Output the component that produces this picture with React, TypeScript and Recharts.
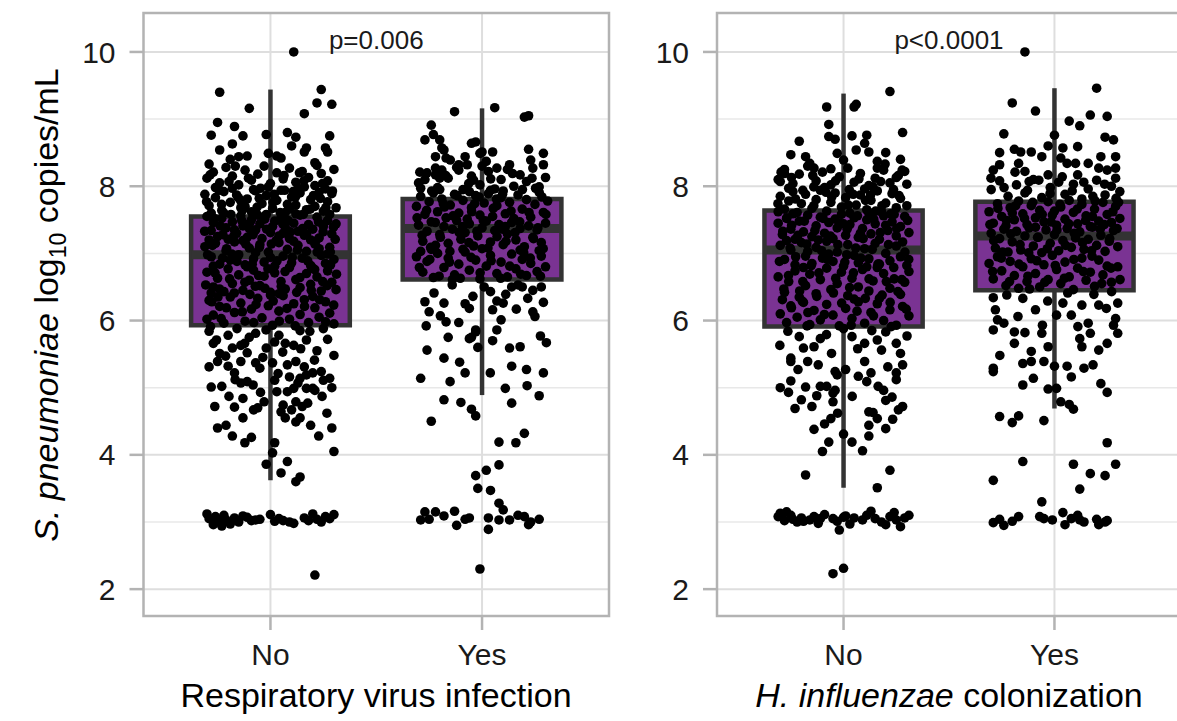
import React from "react";
import {
  ComposedChart,
  ReferenceArea,
  ReferenceDot,
  ReferenceLine,
  Scatter,
  XAxis,
  YAxis
} from "recharts";

const FONT = '"Liberation Sans", Arial, Helvetica, sans-serif';

// shared scales
const xDomain: [number, number] = [0.4, 2.6];
const yDomain: [number, number] = [1.6, 10.58];
const majorTicks = [2, 4, 6, 8, 10];
const minorTicks = [3, 5, 7, 9];
const categories = ["No", "Yes"];
const pLabelY = 10.05;

// box statistics, [No, Yes]
const respQ1 = [5.93, 6.61];
const respMedian = [6.98, 7.37];
const respQ3 = [7.55, 7.81];
const respLow = [3.62, 4.89];
const respHigh = [9.44, 9.16];

const hflQ1 = [5.91, 6.45];
const hflMedian = [7.05, 7.26];
const hflQ3 = [7.64, 7.77];
const hflLow = [3.51, 4.69];
const hflHigh = [9.38, 9.46];

// jittered observations: [offset from category, log10 copies/mL]
const respNoPoints: [number, number][] = [
  [0.11, 10.0], [-0.24, 9.4], [0.24, 9.44], [0.22, 9.24], [0.29, 9.22], [-0.1, 9.16], [0.16, 9.08],
  [-0.25, 8.95], [-0.17, 8.89], [-0.28, 8.76], [-0.13, 8.75], [-0.18, 8.63], [-0.02, 8.77], [0.08, 8.8],
  [0.12, 8.73], [0.1, 8.6], [0.17, 8.57], [0.28, 8.75], [0.26, 8.57], [0.27, 8.51], [-0.24, 8.54],
  [-0.01, 8.49], [0.03, 8.45], [0.05, 8.42], [-0.15, 8.44], [-0.29, 8.33], [-0.19, 8.4], [-0.11, 8.45],
  [0.16, 8.51], [0.21, 8.35],
  [-0.3, 8.12], [-0.27, 8.21], [-0.24, 8.05], [-0.21, 8.28], [-0.18, 8.15], [-0.15, 8.02], [-0.12, 8.24],
  [-0.09, 8.09], [-0.06, 8.18], [-0.03, 8.3], [0.0, 8.04], [0.03, 8.2], [0.06, 8.11], [0.09, 8.27],
  [0.12, 8.06], [0.15, 8.22], [0.18, 8.13], [0.21, 8.01], [0.24, 8.19], [0.27, 8.08], [0.3, 8.25],
  [-0.26, 7.98], [0.13, 7.97], [-0.08, 7.95], [0.22, 8.31],
  [-0.31, 7.88], [-0.29, 7.71], [-0.26, 7.83], [-0.23, 7.64], [-0.22, 7.92], [-0.19, 7.76], [-0.16, 7.87],
  [-0.14, 7.68], [-0.11, 7.81], [-0.09, 7.62], [-0.07, 7.93], [-0.04, 7.74], [-0.02, 7.86], [0.01, 7.67],
  [0.03, 7.79], [0.05, 7.94], [0.07, 7.61], [0.1, 7.84], [0.12, 7.72], [0.14, 7.9], [0.17, 7.65],
  [0.19, 7.8], [0.21, 7.7], [0.23, 7.91], [0.25, 7.63], [0.27, 7.77], [0.29, 7.89], [0.31, 7.68],
  [-0.28, 7.6], [-0.18, 7.97], [-0.01, 7.99], [0.16, 7.99], [0.08, 7.73], [-0.12, 7.7], [0.26, 7.96],
  [-0.3, 7.55], [-0.28, 7.34], [-0.27, 7.46], [-0.25, 7.25], [-0.23, 7.52], [-0.21, 7.38], [-0.2, 7.21],
  [-0.18, 7.47], [-0.16, 7.3], [-0.14, 7.56], [-0.13, 7.41], [-0.11, 7.24], [-0.09, 7.5], [-0.07, 7.35],
  [-0.05, 7.44], [-0.04, 7.22], [-0.02, 7.58], [0.0, 7.31], [0.02, 7.48], [0.04, 7.26], [0.05, 7.53],
  [0.07, 7.39], [0.09, 7.22], [0.11, 7.45], [0.13, 7.33], [0.14, 7.57], [0.16, 7.27], [0.18, 7.43],
  [0.2, 7.36], [0.22, 7.54], [0.23, 7.23], [0.25, 7.4], [0.27, 7.49], [0.29, 7.29], [0.31, 7.44],
  [-0.29, 7.2], [-0.22, 7.6], [-0.1, 7.37], [0.01, 7.4], [0.12, 7.59], [0.19, 7.2], [0.28, 7.58],
  [-0.17, 7.35], [0.06, 7.3], [-0.06, 7.57],
  [-0.31, 7.1], [-0.28, 6.95], [-0.26, 7.15], [-0.24, 6.84], [-0.21, 7.04], [-0.19, 6.9], [-0.17, 7.17],
  [-0.15, 6.98], [-0.12, 6.83], [-0.1, 7.08], [-0.08, 6.92], [-0.05, 7.13], [-0.03, 6.87], [-0.01, 7.02],
  [0.02, 6.81], [0.04, 7.16], [0.06, 6.96], [0.08, 7.06], [0.1, 6.86], [0.13, 7.12], [0.15, 6.93],
  [0.17, 7.03], [0.19, 6.82], [0.21, 7.14], [0.24, 6.97], [0.26, 6.85], [0.28, 7.09], [0.3, 6.91],
  [-0.27, 6.81], [-0.13, 7.19], [0.0, 6.94], [0.11, 7.18], [0.23, 7.07], [-0.07, 7.01], [0.27, 6.99],
  [-0.3, 6.72], [-0.27, 6.5], [-0.25, 6.63], [-0.22, 6.43], [-0.2, 6.77], [-0.18, 6.55], [-0.15, 6.68],
  [-0.13, 6.45], [-0.1, 6.6], [-0.08, 6.75], [-0.05, 6.52], [-0.03, 6.66], [0.0, 6.42], [0.02, 6.71],
  [0.05, 6.58], [0.07, 6.47], [0.09, 6.79], [0.12, 6.61], [0.14, 6.49], [0.17, 6.7], [0.19, 6.54],
  [0.22, 6.65], [0.24, 6.44], [0.27, 6.74], [0.29, 6.57], [0.31, 6.46], [-0.28, 6.41], [-0.11, 6.8],
  [0.04, 6.4], [0.2, 6.78],
  [-0.29, 6.3], [-0.27, 6.08], [-0.24, 6.21], [-0.22, 5.96], [-0.19, 6.35], [-0.17, 6.12], [-0.14, 6.26],
  [-0.12, 5.99], [-0.09, 6.17], [-0.06, 6.33], [-0.04, 6.04], [-0.01, 6.22], [0.01, 5.93], [0.04, 6.14],
  [0.06, 6.37], [0.09, 6.02], [0.11, 6.25], [0.14, 6.09], [0.16, 6.31], [0.18, 5.97], [0.21, 6.19],
  [0.23, 6.05], [0.26, 6.28], [0.28, 6.11], [0.3, 5.95], [-0.3, 6.02], [0.0, 6.38], [0.2, 6.36],
  [-0.29, 5.31], [-0.25, 5.39], [-0.2, 5.32], [-0.17, 5.22], [-0.14, 5.39], [-0.11, 5.52], [-0.07, 5.37],
  [-0.05, 5.29], [-0.02, 5.59], [0.01, 5.37], [-0.27, 5.66], [-0.24, 5.51], [-0.18, 5.59], [-0.14, 5.63],
  [0.08, 5.34], [0.12, 5.39], [0.16, 5.31], [0.2, 5.22], [0.17, 5.19], [0.07, 5.66], [0.11, 5.63],
  [0.17, 5.71], [-0.2, 5.78], [-0.07, 5.81], [0.04, 5.78], [0.28, 5.14], [0.29, 5.0], [0.25, 5.11],
  [0.24, 5.24], [0.2, 4.99], [0.22, 5.55], [0.27, 5.72], [0.3, 5.48], [0.14, 5.85], [-0.29, 5.84],
  [-0.1, 5.75], [0.02, 5.68], [0.25, 5.88],
  [-0.28, 5.01], [-0.23, 5.02], [-0.14, 5.07], [-0.11, 5.09], [0.02, 5.11], [0.03, 4.94], [0.06, 4.74],
  [0.05, 4.64], [0.07, 4.55], [0.12, 4.49], [0.14, 4.55], [0.12, 4.79], [0.15, 4.72], [0.1, 4.67],
  [0.19, 4.44], [0.08, 4.94], [0.11, 4.99], [0.13, 5.07], [0.17, 4.99], [0.21, 4.96], [0.09, 5.16],
  [0.14, 5.14], [-0.25, 4.4], [-0.21, 4.44], [-0.18, 4.28], [-0.09, 4.26], [-0.13, 4.55], [-0.17, 4.71],
  [-0.13, 4.84], [-0.08, 4.67], [-0.06, 4.7], [-0.03, 4.79], [0.3, 4.05], [0.29, 4.4],
  [0.02, 4.18], [0.01, 4.03], [-0.02, 3.86], [0.08, 3.9], [0.05, 3.73], [0.14, 3.67], [0.12, 3.6],
  [-0.3, 3.12], [-0.29, 3.05], [-0.27, 2.96], [-0.26, 3.08], [-0.24, 3.01], [-0.23, 2.94], [-0.22, 3.1],
  [-0.21, 3.03], [-0.19, 2.97], [-0.17, 3.06], [-0.15, 3.0], [-0.13, 3.09], [-0.11, 3.07], [-0.09, 3.02],
  [-0.05, 3.04], [0.0, 3.11], [0.02, 3.01], [0.04, 3.05], [0.06, 3.02], [0.09, 3.0], [0.11, 2.98],
  [0.16, 3.06], [0.18, 3.02], [0.2, 3.12], [0.22, 3.04], [0.24, 3.0], [0.26, 3.08], [0.28, 3.05],
  [0.3, 3.11], [-0.07, 3.03],
  [0.21, 2.21],
  [-0.285, 8.17], [-0.243, 7.94], [-0.196, 8.07], [-0.152, 7.83], [-0.104, 8.12], [-0.047, 7.97],
  [0.018, 7.88], [0.064, 8.16], [0.107, 7.92], [0.158, 8.08], [0.203, 7.86], [0.246, 8.04], [0.293, 7.93],
  [-0.302, 7.77], [-0.266, 7.52], [-0.231, 7.73], [-0.187, 7.58], [-0.142, 7.79], [-0.098, 7.45],
  [-0.063, 7.69], [-0.027, 7.51], [0.012, 7.76], [0.046, 7.61], [0.083, 7.49], [0.118, 7.84],
  [0.152, 7.37], [0.188, 7.66], [0.227, 7.47], [0.262, 7.68], [0.298, 7.39],
  [-0.311, 7.33], [-0.274, 7.12], [-0.238, 7.41], [-0.207, 7.07], [-0.173, 7.26], [-0.136, 7.49],
  [-0.117, 7.14], [-0.082, 7.28], [-0.052, 7.09], [-0.018, 7.36], [0.027, 7.19], [0.058, 7.44],
  [0.094, 7.32], [0.127, 7.05], [0.171, 7.29], [0.214, 7.18], [0.249, 7.32], [0.283, 7.02], [0.306, 7.21],
  [-0.297, 6.98], [-0.262, 6.71], [-0.226, 6.93], [-0.193, 6.62], [-0.158, 6.88], [-0.121, 6.57],
  [-0.086, 6.84], [-0.056, 6.67], [-0.012, 6.77], [0.031, 6.89], [0.069, 6.73], [0.103, 6.94],
  [0.139, 6.64], [0.176, 6.89], [0.209, 6.76], [0.247, 6.58], [0.284, 6.83], [0.312, 6.69],
  [-0.306, 6.53], [-0.277, 6.28], [-0.241, 6.47], [-0.208, 6.19], [-0.171, 6.41], [-0.133, 6.13],
  [-0.097, 6.39], [-0.068, 6.24], [-0.026, 6.48], [0.013, 6.29], [0.051, 6.51], [0.078, 6.18],
  [0.124, 6.42], [0.161, 6.21], [0.193, 6.45], [0.232, 6.31], [0.268, 6.52], [0.299, 6.23],
  [-0.283, 5.91], [-0.233, 6.03], [-0.158, 5.88], [-0.079, 5.97], [-0.021, 5.86], [0.042, 5.99],
  [0.117, 5.92], [0.186, 5.84], [0.261, 5.98],
  [-0.255, 5.71], [-0.122, 5.66], [-0.036, 5.45], [0.058, 5.53], [0.143, 5.58], [0.208, 5.41],
  [-0.212, 5.47], [-0.167, 5.12], [0.036, 5.21], [-0.082, 5.04], [0.244, 4.87], [0.267, 4.62],
  [-0.047, 4.93], [-0.196, 4.87], [-0.263, 4.72], [0.176, 4.77], [0.228, 4.28], [-0.121, 4.18],
  [-0.225, 7.28], [-0.053, 7.82], [0.092, 7.66], [0.236, 7.82], [-0.183, 6.99], [0.155, 7.58],
  [-0.072, 6.51], [0.221, 7.02], [-0.248, 6.35], [0.004, 7.14], [0.067, 7.94], [-0.131, 7.65],
  [0.137, 8.2], [-0.166, 8.3]
];

const respYesPoints: [number, number][] = [
  [-0.13, 9.11], [0.06, 9.17], [0.2, 9.03], [0.22, 9.05], [-0.24, 8.91], [-0.23, 8.77], [-0.27, 8.69],
  [-0.19, 8.57], [-0.05, 8.64], [-0.03, 8.66], [0.05, 8.51], [-0.01, 8.49], [0.22, 8.55], [0.29, 8.49],
  [-0.08, 8.44], [-0.22, 8.44], [-0.17, 8.42], [0.29, 8.32], [0.23, 8.39], [0.13, 8.32], [-0.22, 8.27],
  [-0.11, 8.32], [-0.2, 8.69], [-0.18, 8.54], [-0.15, 8.39], [-0.22, 8.17], [-0.2, 8.12], [-0.27, 8.1],
  [-0.29, 7.97], [0.0, 8.51], [-0.11, 8.24], [-0.07, 8.32], [-0.04, 8.09], [0.02, 8.37], [0.07, 8.27],
  [0.04, 7.94],
  [-0.3, 8.05], [-0.26, 8.2], [-0.21, 7.98], [-0.16, 8.12], [-0.12, 8.28], [-0.09, 7.95], [-0.05, 8.15],
  [-0.01, 8.02], [0.03, 8.22], [0.06, 7.96], [0.09, 8.1], [0.12, 8.25], [0.15, 8.0], [0.18, 8.17],
  [0.21, 8.07], [0.24, 8.27], [0.27, 7.99], [0.3, 8.13], [-0.19, 8.24], [0.0, 8.3],
  [-0.31, 7.7], [-0.29, 7.85], [-0.27, 7.58], [-0.25, 7.77], [-0.23, 7.9], [-0.21, 7.62], [-0.19, 7.81],
  [-0.17, 7.53], [-0.15, 7.72], [-0.13, 7.88], [-0.11, 7.6], [-0.09, 7.79], [-0.07, 7.51], [-0.05, 7.68],
  [-0.03, 7.86], [-0.01, 7.57], [0.01, 7.75], [0.03, 7.89], [0.05, 7.55], [0.07, 7.71], [0.09, 7.83],
  [0.11, 7.59], [0.13, 7.76], [0.15, 7.52], [0.17, 7.87], [0.19, 7.66], [0.21, 7.8], [0.23, 7.54],
  [0.25, 7.73], [0.27, 7.91], [0.29, 7.61], [0.31, 7.78], [-0.2, 7.95], [0.1, 7.93], [-0.06, 7.92],
  [-0.3, 7.42], [-0.28, 7.18], [-0.26, 7.33], [-0.24, 7.47], [-0.22, 7.12], [-0.2, 7.28], [-0.18, 7.4],
  [-0.16, 7.15], [-0.14, 7.36], [-0.12, 7.49], [-0.1, 7.21], [-0.08, 7.31], [-0.06, 7.44], [-0.04, 7.11],
  [-0.02, 7.26], [0.0, 7.38], [0.02, 7.48], [0.04, 7.17], [0.06, 7.34], [0.08, 7.43], [0.1, 7.13],
  [0.12, 7.29], [0.14, 7.46], [0.16, 7.2], [0.18, 7.37], [0.2, 7.1], [0.22, 7.41], [0.24, 7.24],
  [0.26, 7.35], [0.28, 7.16], [0.3, 7.45], [-0.29, 7.03], [0.11, 7.4], [-0.09, 7.06], [0.27, 7.04],
  [-0.31, 6.95], [-0.28, 6.72], [-0.26, 6.88], [-0.23, 6.64], [-0.21, 7.0], [-0.18, 6.79], [-0.16, 6.93],
  [-0.13, 6.68], [-0.11, 6.84], [-0.08, 7.02], [-0.06, 6.75], [-0.03, 6.9], [-0.01, 6.62], [0.02, 6.81],
  [0.04, 6.97], [0.07, 6.7], [0.09, 6.87], [0.12, 6.65], [0.14, 6.99], [0.16, 6.77], [0.19, 6.91],
  [0.21, 6.67], [0.23, 6.85], [0.26, 6.73], [0.28, 6.96], [0.3, 6.8], [-0.24, 7.06], [0.0, 7.07],
  [0.18, 7.05], [-0.14, 6.61],
  [-0.27, 6.28], [-0.25, 6.13], [-0.18, 6.26], [-0.17, 5.98], [-0.11, 5.97], [-0.08, 6.25], [-0.06, 6.18],
  [-0.03, 5.86], [-0.06, 5.73], [0.04, 6.43], [0.07, 6.29], [0.05, 6.16], [0.01, 6.5], [0.1, 6.26],
  [0.14, 6.5], [0.17, 6.53], [0.19, 6.5], [0.24, 6.45], [0.28, 6.5], [0.29, 6.27], [0.24, 6.13],
  [0.25, 6.06], [0.07, 5.86], [0.09, 6.01], [0.13, 5.59], [0.18, 5.61],
  [-0.16, 5.75], [-0.26, 5.56], [-0.18, 5.44], [-0.29, 5.14], [-0.08, 5.22], [-0.05, 5.75], [-0.02, 5.6],
  [0.05, 5.7], [-0.03, 5.83], [-0.18, 4.82], [-0.1, 4.78], [-0.05, 4.68], [-0.03, 4.58], [-0.24, 4.5],
  [0.11, 4.99], [0.14, 4.77], [0.27, 4.88], [0.29, 5.22], [0.21, 5.27], [0.14, 5.32],
  [0.08, 4.19], [0.16, 4.18], [0.2, 4.32], [0.08, 3.85], [0.02, 3.77], [-0.03, 3.69], [-0.02, 3.5],
  [0.04, 3.47],
  [-0.29, 3.03], [-0.27, 3.15], [-0.25, 3.04], [-0.22, 3.15], [-0.18, 3.09], [-0.13, 3.16], [-0.12, 2.95],
  [-0.08, 3.04], [-0.06, 3.06], [0.03, 3.06], [0.03, 2.89], [0.08, 3.03], [0.1, 3.18], [0.08, 3.28],
  [0.13, 3.03], [0.17, 3.1], [0.2, 3.08], [0.22, 2.96], [0.23, 3.0], [0.27, 3.04],
  [-0.01, 2.3],
  [-0.294, 8.21], [-0.238, 7.93], [-0.172, 8.16], [-0.118, 7.86], [-0.063, 8.04], [-0.014, 7.84],
  [0.041, 8.11], [0.097, 7.88], [0.144, 8.19], [0.191, 7.95], [0.236, 8.12], [0.283, 7.84],
  [-0.307, 7.53], [-0.262, 7.64], [-0.221, 7.46], [-0.178, 7.69], [-0.137, 7.56], [-0.092, 7.4],
  [-0.049, 7.62], [0.006, 7.49], [0.053, 7.67], [0.096, 7.36], [0.137, 7.63], [0.178, 7.47],
  [0.222, 7.61], [0.264, 7.38], [0.302, 7.58],
  [-0.283, 7.27], [-0.243, 7.09], [-0.197, 7.24], [-0.152, 7.03], [-0.108, 7.31], [-0.062, 7.16],
  [-0.024, 7.33], [0.028, 7.08], [0.071, 7.25], [0.113, 7.18], [0.156, 7.31], [0.197, 7.01],
  [0.243, 7.22], [0.289, 7.07],
  [-0.296, 6.79], [-0.247, 6.91], [-0.203, 6.66], [-0.154, 6.87], [-0.103, 6.63], [-0.052, 6.94],
  [-0.009, 6.71], [0.043, 6.89], [0.088, 6.63], [0.131, 6.81], [0.183, 6.69], [0.228, 6.93], [0.276, 6.66],
  [-0.227, 6.41], [-0.141, 6.53], [-0.043, 6.36], [0.112, 6.39], [0.216, 6.33], [-0.197, 6.07],
  [0.162, 6.17], [-0.264, 5.92], [0.276, 5.77], [-0.106, 5.38], [0.213, 5.03], [-0.151, 5.09],
  [0.304, 5.67], [0.039, 5.22],
  [-0.183, 7.74], [0.068, 7.81], [0.253, 7.97], [-0.035, 7.74]
];

const hflNoPoints: [number, number][] = [
  [0.22, 9.41], [0.05, 9.18], [0.06, 9.22], [-0.08, 9.18], [-0.07, 8.92], [-0.07, 8.74], [-0.04, 8.7],
  [0.04, 8.75], [-0.21, 8.67], [0.28, 8.8], [0.11, 8.76], [0.1, 8.64], [0.06, 8.54], [0.12, 8.51],
  [0.2, 8.5], [0.27, 8.4], [-0.03, 8.49], [-0.25, 8.47], [-0.18, 8.44], [0.16, 8.37], [0.29, 8.22],
  [0.25, 8.13], [0.0, 8.39], [-0.16, 8.34], [-0.14, 8.27], [-0.28, 8.19], [-0.3, 8.07], [0.16, 8.27],
  [-0.31, 8.1], [-0.28, 8.25], [-0.24, 8.04], [-0.21, 8.18], [-0.17, 8.3], [-0.13, 8.08], [-0.1, 8.21],
  [-0.06, 8.02], [-0.02, 8.14], [0.02, 8.27], [0.05, 8.06], [0.08, 8.19], [0.12, 8.01], [0.15, 8.12],
  [0.19, 8.24], [0.22, 8.05], [0.26, 8.16], [0.3, 8.03], [-0.26, 7.97], [0.1, 7.96],
  [-0.3, 7.85], [-0.28, 7.66], [-0.26, 7.78], [-0.24, 7.92], [-0.22, 7.61], [-0.2, 7.74], [-0.18, 7.88],
  [-0.15, 7.67], [-0.13, 7.8], [-0.11, 7.94], [-0.08, 7.63], [-0.06, 7.76], [-0.04, 7.9], [-0.01, 7.69],
  [0.01, 7.83], [0.03, 7.6], [0.06, 7.72], [0.08, 7.87], [0.11, 7.65], [0.13, 7.79], [0.16, 7.93],
  [0.18, 7.62], [0.2, 7.75], [0.23, 7.89], [0.25, 7.68], [0.27, 7.82], [0.3, 7.71], [-0.09, 7.98],
  [0.14, 7.99], [-0.31, 7.62],
  [-0.31, 7.45], [-0.29, 7.28], [-0.27, 7.52], [-0.25, 7.36], [-0.23, 7.21], [-0.21, 7.48], [-0.19, 7.32],
  [-0.17, 7.57], [-0.15, 7.25], [-0.13, 7.41], [-0.11, 7.54], [-0.09, 7.3], [-0.07, 7.46], [-0.05, 7.22],
  [-0.03, 7.38], [-0.01, 7.58], [0.01, 7.27], [0.03, 7.43], [0.05, 7.53], [0.07, 7.24], [0.09, 7.37],
  [0.11, 7.5], [0.13, 7.29], [0.15, 7.44], [0.17, 7.21], [0.19, 7.56], [0.21, 7.34], [0.23, 7.47],
  [0.25, 7.26], [0.27, 7.4], [0.29, 7.55], [0.31, 7.31], [-0.24, 7.59], [-0.12, 7.2], [0.0, 7.44],
  [0.12, 7.6], [0.24, 7.58], [-0.04, 7.51], [0.08, 7.3], [0.2, 7.42],
  [-0.3, 7.12], [-0.28, 6.91], [-0.25, 7.05], [-0.23, 6.83], [-0.2, 7.16], [-0.18, 6.96], [-0.15, 6.85],
  [-0.13, 7.09], [-0.1, 6.93], [-0.08, 7.18], [-0.05, 6.88], [-0.03, 7.02], [0.0, 6.81], [0.02, 7.13],
  [0.05, 6.97], [0.07, 6.86], [0.1, 7.07], [0.12, 6.92], [0.15, 7.15], [0.17, 6.84], [0.2, 7.0],
  [0.22, 6.89], [0.25, 7.11], [0.27, 6.95], [0.3, 6.82], [-0.27, 7.19], [-0.07, 6.99], [0.11, 6.8],
  [0.28, 7.17], [-0.17, 7.03],
  [-0.31, 6.65], [-0.28, 6.42], [-0.26, 6.58], [-0.23, 6.74], [-0.21, 6.35], [-0.18, 6.52], [-0.16, 6.69],
  [-0.13, 6.4], [-0.11, 6.61], [-0.08, 6.78], [-0.06, 6.46], [-0.03, 6.55], [-0.01, 6.72], [0.02, 6.37],
  [0.04, 6.63], [0.07, 6.5], [0.09, 6.76], [0.12, 6.44], [0.14, 6.59], [0.17, 6.33], [0.19, 6.7],
  [0.22, 6.48], [0.24, 6.62], [0.27, 6.39], [0.29, 6.57], [0.31, 6.73], [-0.29, 6.31], [-0.19, 6.79],
  [0.05, 6.32], [0.16, 6.79],
  [-0.3, 6.1], [-0.27, 5.97], [-0.25, 6.22], [-0.22, 6.05], [-0.19, 6.27], [-0.16, 5.94], [-0.14, 6.15],
  [-0.11, 6.01], [-0.08, 6.24], [-0.05, 6.08], [-0.02, 5.92], [0.01, 6.18], [0.04, 6.03], [0.07, 6.28],
  [0.1, 5.96], [0.13, 6.12], [0.16, 6.25], [0.19, 6.0], [0.22, 6.16], [0.25, 5.93], [0.28, 6.21],
  [0.31, 6.07],
  [-0.21, 5.76], [-0.19, 5.59], [-0.14, 5.61], [-0.11, 5.73], [0.0, 5.88], [0.04, 5.76], [0.1, 5.66],
  [0.16, 5.71], [0.2, 5.83], [0.25, 5.66], [0.27, 5.51], [0.18, 5.56], [-0.25, 5.44],
  [-0.25, 5.39], [-0.17, 5.39], [-0.12, 5.34], [-0.04, 5.24], [-0.03, 5.19], [0.01, 5.27], [0.1, 5.39],
  [0.07, 5.17], [0.11, 5.09], [0.13, 5.22], [0.25, 5.12], [0.25, 5.22], [0.21, 5.31], [0.28, 5.34],
  [-0.3, 5.0], [-0.25, 5.1], [-0.18, 5.01], [-0.11, 5.02], [-0.08, 5.02], [-0.05, 4.92], [-0.04, 4.96],
  [-0.05, 4.79], [0.19, 4.96], [0.23, 4.86], [0.2, 4.81], [0.26, 4.67], [0.28, 4.72], [-0.23, 4.69],
  [-0.2, 4.82], [-0.15, 4.72], [0.12, 4.64], [0.14, 4.63], [0.16, 4.54], [0.2, 4.39], [0.12, 4.44],
  [0.12, 4.28], [0.09, 4.06], [0.04, 4.19], [0.0, 4.31], [-0.14, 4.38], [-0.06, 4.54], [-0.09, 4.46],
  [-0.07, 4.19], [-0.1, 4.05], [-0.18, 3.7], [0.22, 3.77], [0.16, 3.51],
  [-0.31, 3.08], [-0.3, 3.13], [-0.28, 3.02], [-0.27, 3.15], [-0.25, 3.1], [-0.24, 3.04], [-0.22, 3.0],
  [-0.2, 3.06], [-0.19, 3.01], [-0.16, 3.03], [-0.14, 3.08], [-0.12, 2.98], [-0.11, 3.05], [-0.09, 3.11],
  [-0.05, 3.05], [-0.03, 3.01], [-0.02, 2.88], [0.0, 3.07], [0.01, 3.09], [0.03, 2.97], [0.05, 3.06],
  [0.09, 3.03], [0.11, 3.1], [0.13, 3.16], [0.15, 3.05], [0.18, 3.0], [0.2, 2.96], [0.22, 3.08],
  [0.24, 3.14], [0.25, 3.03], [0.27, 2.93], [0.29, 3.06], [0.31, 3.1],
  [-0.05, 2.23], [0.0, 2.31],
  [-0.296, 8.21], [-0.247, 8.13], [-0.193, 7.94], [-0.146, 8.16], [-0.083, 7.91], [-0.038, 8.08],
  [0.027, 7.95], [0.073, 8.11], [0.128, 7.87], [0.176, 8.07], [0.237, 7.95], [0.278, 8.24],
  [-0.311, 7.74], [-0.269, 7.53], [-0.228, 7.81], [-0.186, 7.48], [-0.141, 7.71], [-0.097, 7.52],
  [-0.056, 7.84], [-0.018, 7.45], [0.023, 7.72], [0.066, 7.56], [0.104, 7.79], [0.143, 7.51],
  [0.182, 7.71], [0.224, 7.59], [0.263, 7.86], [0.304, 7.49],
  [-0.288, 7.33], [-0.253, 7.08], [-0.216, 7.27], [-0.174, 7.14], [-0.136, 7.34], [-0.104, 7.04],
  [-0.063, 7.26], [-0.027, 7.13], [0.017, 7.36], [0.058, 7.08], [0.093, 7.22], [0.136, 7.06],
  [0.174, 7.31], [0.213, 7.13], [0.252, 7.37], [0.291, 7.02],
  [-0.304, 6.88], [-0.261, 6.67], [-0.227, 6.95], [-0.193, 6.58], [-0.153, 6.82], [-0.117, 6.71],
  [-0.077, 6.91], [-0.037, 6.63], [0.006, 6.87], [0.047, 6.71], [0.083, 6.93], [0.121, 6.62],
  [0.163, 6.84], [0.203, 6.58], [0.238, 6.79], [0.276, 6.61], [0.309, 6.91],
  [-0.283, 6.47], [-0.247, 6.19], [-0.208, 6.44], [-0.169, 6.12], [-0.127, 6.36], [-0.091, 6.09],
  [-0.048, 6.41], [-0.009, 6.26], [0.029, 6.49], [0.064, 6.14], [0.103, 6.33], [0.142, 6.07],
  [0.183, 6.38], [0.221, 6.27], [0.258, 6.43], [0.297, 6.17],
  [-0.264, 5.84], [-0.173, 5.92], [-0.081, 5.79], [0.036, 5.93], [0.134, 5.85], [0.226, 5.91],
  [-0.302, 5.63], [0.067, 5.58], [-0.057, 5.51], [0.301, 5.77], [-0.216, 5.27], [0.164, 5.02],
  [0.041, 4.87], [-0.127, 4.88], [-0.261, 4.93], [0.233, 4.53], [-0.028, 4.62],
  [-0.141, 7.99], [0.046, 7.88], [0.197, 8.33], [-0.06, 8.26], [0.152, 7.63], [-0.246, 7.42],
  [0.015, 6.98], [-0.196, 6.29]
];

const hflYesPoints: [number, number][] = [
  [-0.14, 10.0], [0.2, 9.46], [-0.2, 9.24], [-0.09, 9.12], [0.17, 9.06], [0.25, 9.04], [0.07, 8.97],
  [0.12, 8.9], [-0.24, 8.78], [0.0, 8.76], [0.24, 8.73], [0.28, 8.69], [-0.03, 8.6], [-0.19, 8.55],
  [-0.16, 8.51], [0.04, 8.57], [0.11, 8.59], [-0.26, 8.5], [-0.11, 8.51], [-0.06, 8.44], [0.03, 8.42],
  [0.22, 8.44], [0.29, 8.44], [-0.26, 8.32], [-0.17, 8.34], [0.06, 8.34], [0.1, 8.34], [0.16, 8.34],
  [0.21, 8.27], [0.25, 8.24], [0.29, 8.27], [-0.29, 8.24], [-0.14, 8.22], [0.11, 8.17], [0.29, 8.12],
  [-0.03, 8.17],
  [-0.3, 7.95], [-0.26, 8.08], [-0.22, 7.85], [-0.18, 8.02], [-0.14, 7.9], [-0.1, 8.1], [-0.06, 7.83],
  [-0.02, 7.98], [0.02, 8.06], [0.05, 7.88], [0.09, 8.03], [0.13, 7.81], [0.16, 7.96], [0.2, 8.09],
  [0.24, 7.87], [0.27, 8.0], [0.31, 7.92], [-0.12, 8.07],
  [-0.31, 7.62], [-0.29, 7.45], [-0.27, 7.74], [-0.25, 7.55], [-0.23, 7.41], [-0.21, 7.68], [-0.19, 7.5],
  [-0.17, 7.78], [-0.15, 7.59], [-0.13, 7.43], [-0.11, 7.71], [-0.09, 7.53], [-0.07, 7.64], [-0.05, 7.47],
  [-0.03, 7.77], [-0.01, 7.57], [0.01, 7.42], [0.03, 7.69], [0.05, 7.51], [0.07, 7.79], [0.09, 7.61],
  [0.11, 7.44], [0.13, 7.73], [0.15, 7.56], [0.17, 7.4], [0.19, 7.66], [0.21, 7.48], [0.23, 7.76],
  [0.25, 7.58], [0.27, 7.46], [0.29, 7.7], [0.31, 7.52], [-0.2, 7.6], [0.0, 7.63], [0.18, 7.55],
  [-0.3, 7.3], [-0.28, 7.08], [-0.26, 7.22], [-0.24, 7.36], [-0.22, 7.02], [-0.2, 7.17], [-0.18, 7.33],
  [-0.16, 7.05], [-0.14, 7.26], [-0.12, 7.38], [-0.1, 7.11], [-0.08, 7.24], [-0.06, 7.01], [-0.04, 7.35],
  [-0.02, 7.15], [0.0, 7.28], [0.02, 7.04], [0.04, 7.19], [0.06, 7.37], [0.08, 7.09], [0.1, 7.23],
  [0.12, 7.32], [0.14, 7.06], [0.16, 7.21], [0.18, 7.39], [0.2, 7.12], [0.22, 7.27], [0.24, 7.03],
  [0.26, 7.18], [0.28, 7.34], [0.3, 7.1], [-0.09, 7.39],
  [-0.31, 6.85], [-0.29, 6.62], [-0.27, 6.95], [-0.25, 6.74], [-0.23, 6.52], [-0.21, 6.88], [-0.19, 6.67],
  [-0.17, 6.48], [-0.15, 6.8], [-0.13, 6.58], [-0.11, 6.92], [-0.09, 6.7], [-0.07, 6.5], [-0.05, 6.83],
  [-0.03, 6.61], [-0.01, 6.97], [0.01, 6.76], [0.03, 6.55], [0.05, 6.87], [0.07, 6.65], [0.09, 6.46],
  [0.11, 6.78], [0.13, 6.93], [0.15, 6.6], [0.17, 6.72], [0.19, 6.51], [0.21, 6.9], [0.23, 6.68],
  [0.25, 6.81], [0.27, 6.57],
  [-0.29, 6.34], [-0.28, 6.16], [-0.27, 6.01], [-0.29, 5.86], [-0.24, 5.96], [-0.19, 5.83], [-0.14, 5.82],
  [-0.15, 6.33], [-0.09, 6.16], [-0.06, 5.81], [-0.19, 5.66], [-0.11, 5.54], [-0.03, 5.61], [0.01, 6.08],
  [0.04, 6.26], [0.08, 6.08], [0.13, 6.23], [0.16, 5.96], [0.17, 5.81], [0.12, 5.73], [0.21, 6.23],
  [0.29, 6.03], [0.28, 5.93], [0.3, 5.81], [0.3, 6.26], [0.25, 5.66], [0.21, 5.56], [0.13, 5.61],
  [0.3, 6.8],
  [-0.29, 3.62], [-0.15, 3.9], [0.09, 3.86], [0.17, 3.72], [0.24, 3.69], [0.29, 3.86], [0.25, 4.18],
  [0.12, 3.49], [-0.06, 3.3], [-0.26, 4.57], [-0.2, 4.48], [-0.17, 4.58], [-0.05, 4.51], [0.03, 4.79],
  [0.09, 4.68], [0.07, 4.75], [-0.03, 4.98], [0.01, 4.99], [-0.15, 5.04], [-0.1, 5.14], [0.22, 5.06],
  [0.25, 4.93], [0.08, 5.16], [0.14, 5.29], [0.06, 5.32], [-0.29, 5.29], [-0.29, 5.24], [-0.15, 5.36],
  [-0.11, 5.39], [-0.05, 5.39], [0.0, 5.32],
  [-0.29, 2.99], [-0.26, 3.04], [-0.24, 2.95], [-0.2, 3.01], [-0.17, 3.08], [-0.07, 3.08], [-0.05, 3.05],
  [-0.01, 3.03], [0.04, 3.14], [0.05, 2.96], [0.08, 3.05], [0.11, 3.1], [0.12, 3.03], [0.14, 3.0],
  [0.2, 3.04], [0.21, 2.96], [0.24, 3.0], [0.25, 3.02],
  [-0.301, 8.12], [-0.239, 7.98], [-0.187, 8.21], [-0.128, 7.94], [-0.074, 8.09], [-0.021, 7.89],
  [0.037, 8.14], [0.084, 7.93], [0.139, 8.06], [0.182, 7.85], [0.238, 8.03], [0.292, 7.82],
  [-0.306, 7.43], [-0.268, 7.67], [-0.227, 7.49], [-0.184, 7.71], [-0.142, 7.52], [-0.103, 7.76],
  [-0.058, 7.58], [-0.016, 7.47], [0.026, 7.73], [0.068, 7.44], [0.108, 7.66], [0.148, 7.49],
  [0.193, 7.78], [0.236, 7.43], [0.277, 7.62], [0.304, 7.76],
  [-0.288, 7.19], [-0.246, 7.02], [-0.207, 7.29], [-0.163, 7.13], [-0.122, 7.01], [-0.077, 7.24],
  [-0.034, 7.07], [0.012, 7.35], [0.053, 7.12], [0.094, 7.3], [0.133, 7.16], [0.176, 7.04],
  [0.217, 7.36], [0.262, 7.22], [0.297, 7.37],
  [-0.293, 6.73], [-0.252, 6.93], [-0.213, 6.58], [-0.168, 6.84], [-0.126, 6.66], [-0.083, 6.89],
  [-0.046, 6.57], [0.004, 6.82], [0.047, 6.63], [0.092, 6.91], [0.137, 6.73], [0.178, 6.96],
  [0.224, 6.55], [0.268, 6.78], [0.311, 6.61],
  [-0.226, 6.38], [-0.118, 6.47], [-0.032, 6.29], [0.063, 6.41], [0.187, 6.39], [0.246, 6.18],
  [-0.173, 6.06], [0.111, 5.91], [-0.057, 5.93], [0.271, 6.43], [-0.259, 5.48], [0.183, 5.34]
];

const GRID = "#dedede";
const BORDER = "#b3b3b3";
const BOX_FILL = "#7a3393";
const BOX_LINE = "#333333";
const BOX_HALF = 0.375;

const dot = (p: any) => <circle cx={p.cx} cy={p.cy} r={4.8} fill="#000" />;

type PanelProps = {
  width: number;
  axisWidth: number;
  rightMargin: number;
  q1: number[];
  median: number[];
  q3: number[];
  low: number[];
  high: number[];
  noPoints: [number, number][];
  yesPoints: [number, number][];
  pText: string;
};

function BoxPanel(props: PanelProps) {
  const { width, axisWidth, rightMargin, q1, median, q3, low, high, noPoints, yesPoints, pText } = props;
  const groups = [noPoints, yesPoints].map((pts, i) =>
    pts.map(([dx, v]) => ({ x: i + 1 + dx, y: v }))
  );

  return (
    <ComposedChart
      width={width}
      height={721}
      margin={{ top: 13, right: rightMargin, bottom: 0, left: 0 }}
    >
      <XAxis
        type="number"
        dataKey="x"
        domain={xDomain}
        allowDataOverflow
        ticks={[1, 2]}
        tickFormatter={(v) => categories[Math.round(v) - 1]}
        height={105}
        tickSize={14}
        tickMargin={14}
        axisLine={false}
        tickLine={{ stroke: BORDER, strokeWidth: 2.5 }}
        tick={{ fill: "#1a1a1a", fontSize: 30, fontFamily: FONT }}
      />
      <YAxis
        type="number"
        dataKey="y"
        domain={yDomain}
        allowDataOverflow
        ticks={majorTicks}
        width={axisWidth}
        tickSize={14}
        tickMargin={14}
        axisLine={false}
        tickLine={{ stroke: BORDER, strokeWidth: 2.5 }}
        tick={{ fill: "#1a1a1a", fontSize: 30, fontFamily: FONT }}
      />

      {minorTicks.map((v) => (
        <ReferenceLine key={"mn" + v} y={v} stroke="#e8e8e8" strokeWidth={1.5} zIndex={10} />
      ))}
      {majorTicks.map((v) => (
        <ReferenceLine key={"mj" + v} y={v} stroke={GRID} strokeWidth={2} zIndex={11} />
      ))}
      {[1, 2].map((c) => (
        <ReferenceLine key={"vx" + c} x={c} stroke={GRID} strokeWidth={2} zIndex={11} />
      ))}

      {[0, 1].map((i) => (
        <ReferenceLine
          key={"wu" + i}
          segment={[{ x: i + 1, y: q3[i] }, { x: i + 1, y: high[i] }]}
          stroke={BOX_LINE}
          strokeWidth={4.5}
          zIndex={90}
        />
      ))}
      {[0, 1].map((i) => (
        <ReferenceLine
          key={"wl" + i}
          segment={[{ x: i + 1, y: q1[i] }, { x: i + 1, y: low[i] }]}
          stroke={BOX_LINE}
          strokeWidth={4.5}
          zIndex={90}
        />
      ))}
      {[0, 1].map((i) => (
        <ReferenceArea
          key={"bx" + i}
          x1={i + 1 - BOX_HALF}
          x2={i + 1 + BOX_HALF}
          y1={q1[i]}
          y2={q3[i]}
          fill={BOX_FILL}
          fillOpacity={1}
          stroke={BOX_LINE}
          strokeWidth={4.5}
          zIndex={100}
        />
      ))}
      {[0, 1].map((i) => (
        <ReferenceLine
          key={"md" + i}
          segment={[
            { x: i + 1 - BOX_HALF, y: median[i] },
            { x: i + 1 + BOX_HALF, y: median[i] }
          ]}
          stroke={BOX_LINE}
          strokeWidth={9}
          zIndex={200}
        />
      ))}

      {groups.map((g, i) => (
        <Scatter key={"pts" + i} data={g} dataKey="y" shape={dot} isAnimationActive={false} zIndex={600} />
      ))}

      <ReferenceArea
        x1={xDomain[0]}
        x2={xDomain[1]}
        y1={yDomain[0]}
        y2={yDomain[1]}
        fill="none"
        stroke={BORDER}
        strokeWidth={2.5}
        zIndex={700}
      />
      <ReferenceDot
        x={1.5}
        y={pLabelY}
        r={0}
        zIndex={800}
        shape={(p: any) => (
          <text
            x={p.cx}
            y={p.cy}
            textAnchor="middle"
            fontSize={26}
            fontFamily={FONT}
            fill="#1a1a1a"
          >
            {pText}
          </text>
        )}
      />
    </ComposedChart>
  );
}

export default function App() {
  return (
    <div
      style={{
        position: "absolute",
        left: 0,
        top: 0,
        width: 1177,
        height: 721,
        overflow: "hidden",
        background: "#fff"
      }}
    >
      <div style={{ position: "absolute", left: 0, top: 0 }}>
        <BoxPanel
          width={620}
          axisWidth={143.5}
          rightMargin={11}
          q1={respQ1}
          median={respMedian}
          q3={respQ3}
          low={respLow}
          high={respHigh}
          noPoints={respNoPoints}
          yesPoints={respYesPoints}
          pText="p=0.006"
        />
      </div>
      <div style={{ position: "absolute", left: 620, top: 0 }}>
        <BoxPanel
          width={600}
          axisWidth={97}
          rightMargin={39}
          q1={hflQ1}
          median={hflMedian}
          q3={hflQ3}
          low={hflLow}
          high={hflHigh}
          noPoints={hflNoPoints}
          yesPoints={hflYesPoints}
          pText="p<0.0001"
        />
      </div>
      <svg
        width={1177}
        height={721}
        style={{ position: "absolute", left: 0, top: 0, pointerEvents: "none" }}
      >
        <text
          transform="translate(58,305) rotate(-90)"
          textAnchor="middle"
          fontSize={34}
          fontFamily={FONT}
          fill="#000"
        >
          <tspan fontStyle="italic">S. pneumoniae</tspan>
          <tspan> log</tspan>
          <tspan fontSize={23} dy={8}>10</tspan>
          <tspan dy={-8}> copies/mL</tspan>
        </text>
        <text x={376} y={707} textAnchor="middle" fontSize={34} fontFamily={FONT} fill="#000">
          Respiratory virus infection
        </text>
        <text x={949} y={707} textAnchor="middle" fontSize={34} fontFamily={FONT} fill="#000">
          <tspan fontStyle="italic">H. influenzae</tspan>
          <tspan> colonization</tspan>
        </text>
      </svg>
    </div>
  );
}
